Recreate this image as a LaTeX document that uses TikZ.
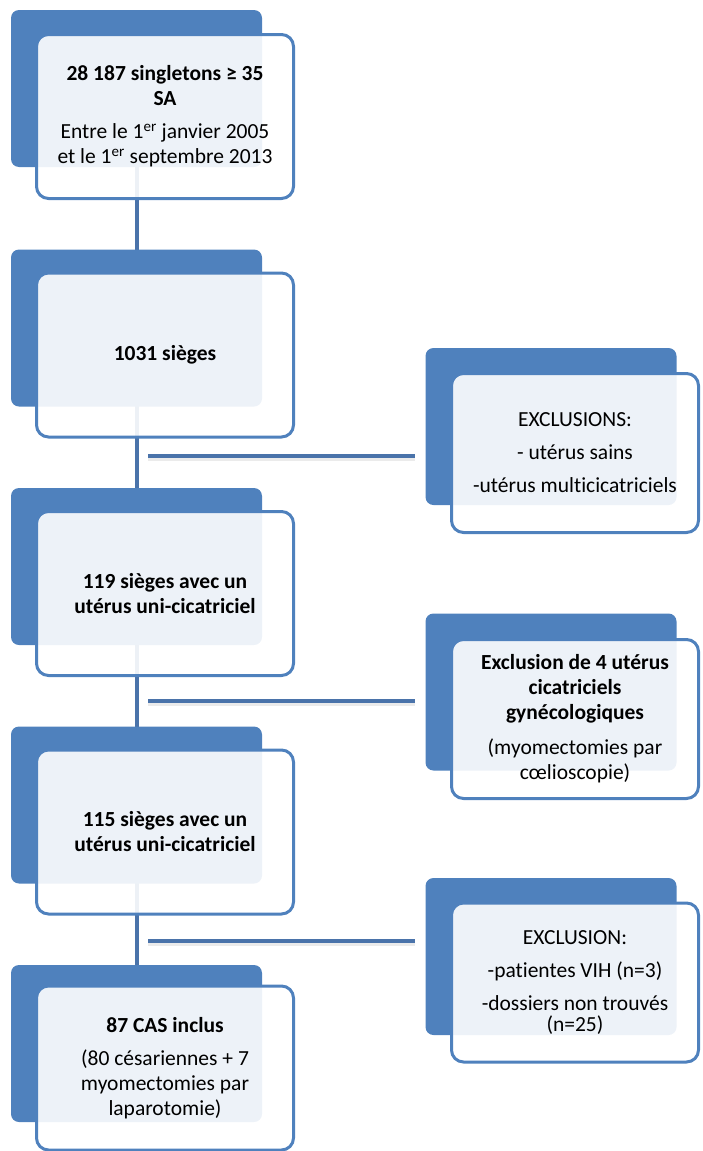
\documentclass[tikz,border=0pt]{standalone}
\usepackage{fontspec}
\setmainfont{Carlito}[Ligatures=NoCommon]
\usetikzlibrary{backgrounds}
\definecolor{boxblue}{HTML}{4F81BD}
\definecolor{linkblue}{HTML}{4A73AA}

\begin{document}
\begin{tikzpicture}[x=1pt,y=-1pt,line cap=round,line join=round,
  back/.style={fill=boxblue,rounded corners=8pt,minimum width=251pt,minimum height=157pt,inner sep=0pt},
  front/.style={draw=boxblue,line width=3pt,fill=white,fill opacity=0.9,text opacity=1,
    rounded corners=12pt,minimum width=257pt,minimum height=164pt,inner sep=0pt,
    align=center,font=\fontsize{21.5}{25}\selectfont},
  rfront/.style={front,minimum width=247pt,minimum height=159pt},
  link/.style={draw=linkblue,line width=4pt,line cap=butt},
  shade/.style={draw=black,opacity=0.08,line width=5pt,line cap=butt}]
\useasboundingbox (0,0) rectangle (702,1151);

% left column
\node[back] (b1) at (136.5,88.5) {};
\node[front] (f1) at (165,116.5) {\textbf{28 187 singletons ≥ 35}\\\textbf{SA}\\[8pt]
  Entre le 1\textsuperscript{er} janvier 2005\\et le 1\textsuperscript{er} septembre 2013};
\node[back] (b2) at (136.5,328) {};
\node[front] (f2) at (165,355) {\textbf{1031 sièges}};
\node[back] (b3) at (136.5,566.5) {};
\node[front] (f3) at (165,593.5) {\textbf{119 sièges avec un}\\\textbf{utérus uni-cicatriciel}};
\node[back] (b4) at (136.5,805) {};
\node[front] (f4) at (165,832) {\textbf{115 sièges avec un}\\\textbf{utérus uni-cicatriciel}};
\node[back] (b5) at (136.5,1043.5) {};
\node[front] (f5) at (165,1068) {\textbf{87 CAS inclus}\\[8pt](80 césariennes + 7\\myomectomies par\\laparotomie)};

% exclusions
\node[back] (r1) at (551,426.5) {};
\node[rfront] (g1) at (575,453) {EXCLUSIONS:\\[8pt]- utérus sains\\[8pt]-utérus multicicatriciels};
\node[back] (r2) at (551,692) {};
\node[rfront] (g2) at (575,719) {\textbf{Exclusion de 4 utérus}\\\textbf{cicatriciels}\\\textbf{gynécologiques}\\[10pt]
  (myomectomies par\\cœlioscopie)};
\node[back] (r3) at (551,956.5) {};
\node[rfront] (g3) at (575,982.5) {EXCLUSION:\\[8pt]-patientes VIH (n=3)\\[8pt]-dossiers non trouvés\\[-4pt](n=25)};

\begin{scope}[on background layer]
\draw[link] (b1.center) -- (b5.center);
\end{scope}

\coordinate (h1) at (148,456);
\coordinate (h2) at (148,701);
\coordinate (h3) at (148,941);
\foreach \h/\r in {h1/r1,h2/r2,h3/r3}{
  \draw[shade] ([yshift=-2pt]\h) -- ([yshift=-2pt]\h -| \r.west) [shorten >=10pt];
  \draw[link] (\h) -- (\h -| \r.west) [shorten >=10pt];
}
\end{tikzpicture}
\end{document}
